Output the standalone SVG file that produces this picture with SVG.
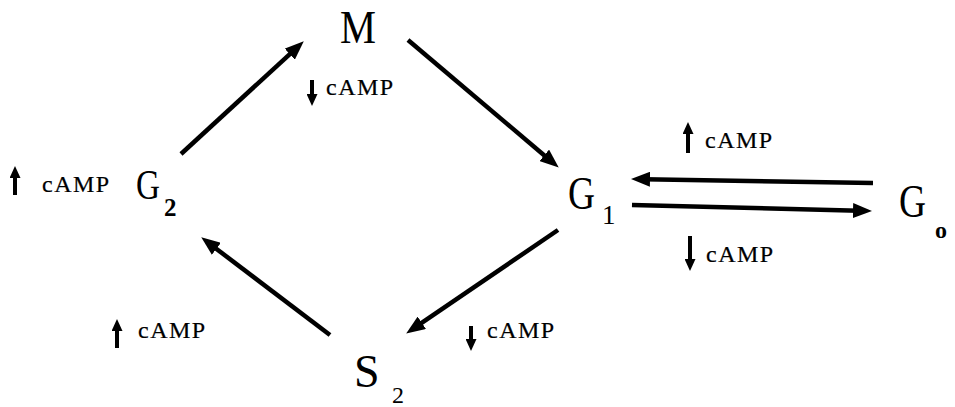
<svg xmlns="http://www.w3.org/2000/svg" width="955" height="407" viewBox="0 0 955 407">
  <style>
    .node { font-family: "Liberation Serif", "DejaVu Serif", serif; fill: #000; }
    .big { font-size: 46px; }
    .sub { font-size: 24px; }
    .lbl { font-family: "Liberation Serif", "DejaVu Serif", serif; font-size: 24px; letter-spacing: 1.5px; fill: #000; stroke: #000; stroke-width: 0.2; }
    .conn { stroke: #000; stroke-width: 4.5; fill: none; marker-end: url(#head); }
    .mini { stroke: #000; stroke-width: 4; fill: none; marker-end: url(#minihead); }
  </style>
  <defs>
    <marker id="head" markerUnits="userSpaceOnUse" viewBox="0 0 19 15" refX="6" refY="7.5" markerWidth="19" markerHeight="15" orient="auto">
      <path d="M0,0 L19,7.5 L0,15 Z" fill="#000"/>
    </marker>
    <marker id="minihead" markerUnits="userSpaceOnUse" viewBox="0 0 12 11" refX="4" refY="5.5" markerWidth="12" markerHeight="11" orient="auto">
      <path d="M0,0 L12,5.5 L0,11 Z" fill="#000"/>
    </marker>
  </defs>
  <rect width="955" height="407" fill="#fff"/>

  <g id="connectors">
    <line class="conn" x1="181" y1="154" x2="294.2" y2="50.1"/>
    <line class="conn" x1="408" y1="40" x2="548.8" y2="159.2"/>
    <line class="conn" x1="558" y1="230" x2="416.9" y2="326.2"/>
    <line class="conn" x1="330" y1="335" x2="211.6" y2="245.2"/>
    <line class="conn" x1="873" y1="183" x2="644" y2="179.2"/>
    <line class="conn" x1="632" y1="205" x2="859" y2="210.7"/>
  </g>

  <g id="M">
    <text class="node big" x="340" y="43" textLength="36" lengthAdjust="spacingAndGlyphs">M</text>
  </g>
  <g id="G1">
    <text class="node big" x="568" y="209" textLength="27" lengthAdjust="spacingAndGlyphs">G</text>
    <text class="node" font-size="27" x="602" y="224">1</text>
  </g>
  <g id="Go">
    <text class="node big" x="899" y="217" textLength="27" lengthAdjust="spacingAndGlyphs">G</text>
    <text class="node sub" x="935" y="238" font-weight="bold">o</text>
  </g>
  <g id="G2">
    <text class="node" font-size="42" x="136" y="199" textLength="24" lengthAdjust="spacingAndGlyphs">G</text>
    <text class="node" font-size="25" font-weight="bold" x="164" y="216">2</text>
  </g>
  <g id="S2">
    <text class="node big" x="354" y="387">S</text>
    <text class="node sub" x="392" y="403">2</text>
  </g>

  <g id="label-M">
    <line class="mini" x1="312" y1="80" x2="312" y2="98"/>
    <text class="lbl" x="326" y="95">cAMP</text>
  </g>
  <g id="label-GoG1">
    <line class="mini" x1="688" y1="153" x2="688" y2="130"/>
    <text class="lbl" x="705" y="148">cAMP</text>
  </g>
  <g id="label-G1Go">
    <line class="mini" x1="690" y1="236" x2="690" y2="263"/>
    <text class="lbl" x="706" y="262">cAMP</text>
  </g>
  <g id="label-G2">
    <line class="mini" x1="15" y1="195" x2="15" y2="174"/>
    <text class="lbl" x="42" y="192">cAMP</text>
  </g>
  <g id="label-S2G2">
    <line class="mini" x1="117" y1="348" x2="117" y2="327"/>
    <text class="lbl" x="138" y="338">cAMP</text>
  </g>
  <g id="label-G1S2">
    <line class="mini" x1="471" y1="326" x2="471" y2="343"/>
    <text class="lbl" x="487" y="338">cAMP</text>
  </g>
</svg>
